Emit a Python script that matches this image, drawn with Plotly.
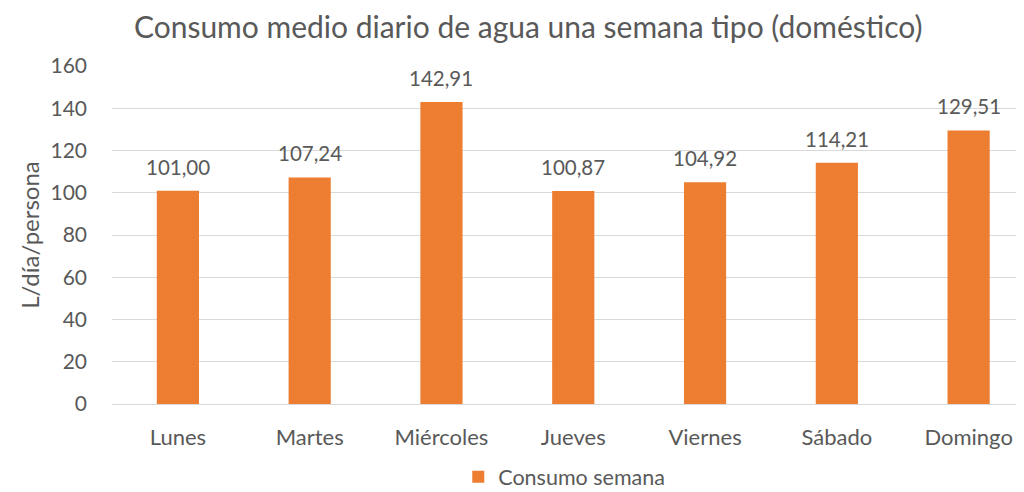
import plotly.graph_objects as go

days = ["Lunes", "Martes", "Miércoles", "Jueves", "Viernes", "Sábado", "Domingo"]
consumo = [101.00, 107.24, 142.91, 100.87, 104.92, 114.21, 129.51]
series_name = "Consumo semana"
title_text = "Consumo medio diario de agua una semana tipo (doméstico)"
y_title = "L/día/persona"
y_ticks = [0, 20, 40, 60, 80, 100, 120, 140, 160]

FONT = "Lato, Calibri, Carlito, sans-serif"
GRAY = "#595959"

fig = go.Figure()
fig.add_trace(go.Bar(
    x=days, y=consumo, name=series_name,
    marker=dict(color="#ED7D31", line=dict(width=0)),
    width=0.32,
    showlegend=True,
))

for d, v in zip(days, consumo):
    fig.add_annotation(x=d, y=v, text=f"{v:.2f}".replace(".", ","), showarrow=False,
                       yanchor="middle", yshift=24,
                       font=dict(size=20.5, color=GRAY, family=FONT))

fig.update_layout(
    width=1024, height=492,
    margin=dict(l=104, r=10, t=58, b=96, autoexpand=False),
    paper_bgcolor="white", plot_bgcolor="white",
    separators=",.",
    font=dict(family=FONT, color=GRAY, size=18),
    title=dict(text=title_text, x=0.508, xanchor="center", y=1 - 19 / 492, yanchor="middle",
               font=dict(size=30, color=GRAY, family=FONT)),
    showlegend=True,
    legend=dict(orientation="h", x=0.497, xanchor="center", y=-0.215, yanchor="middle",
                font=dict(size=21.5, color=GRAY, family=FONT), itemwidth=30),
    bargap=0.68,
)
fig.update_xaxes(range=[-0.5, 6.405], showline=False, ticks="", showgrid=False,
                 ticklabelstandoff=18,
                 tickfont=dict(size=22, color=GRAY, family=FONT))
fig.update_yaxes(range=[0, 160], tickvals=y_ticks, showgrid=True, gridcolor="#D9D9D9",
                 gridwidth=1, zeroline=True, zerolinecolor="#D9D9D9", zerolinewidth=1,
                 ticks="", ticklabelstandoff=24,
                 tickfont=dict(size=21, color=GRAY, family=FONT),
                 title=dict(text=y_title, standoff=4, font=dict(size=24, color=GRAY, family=FONT)))

fig.write_html("out.html")
